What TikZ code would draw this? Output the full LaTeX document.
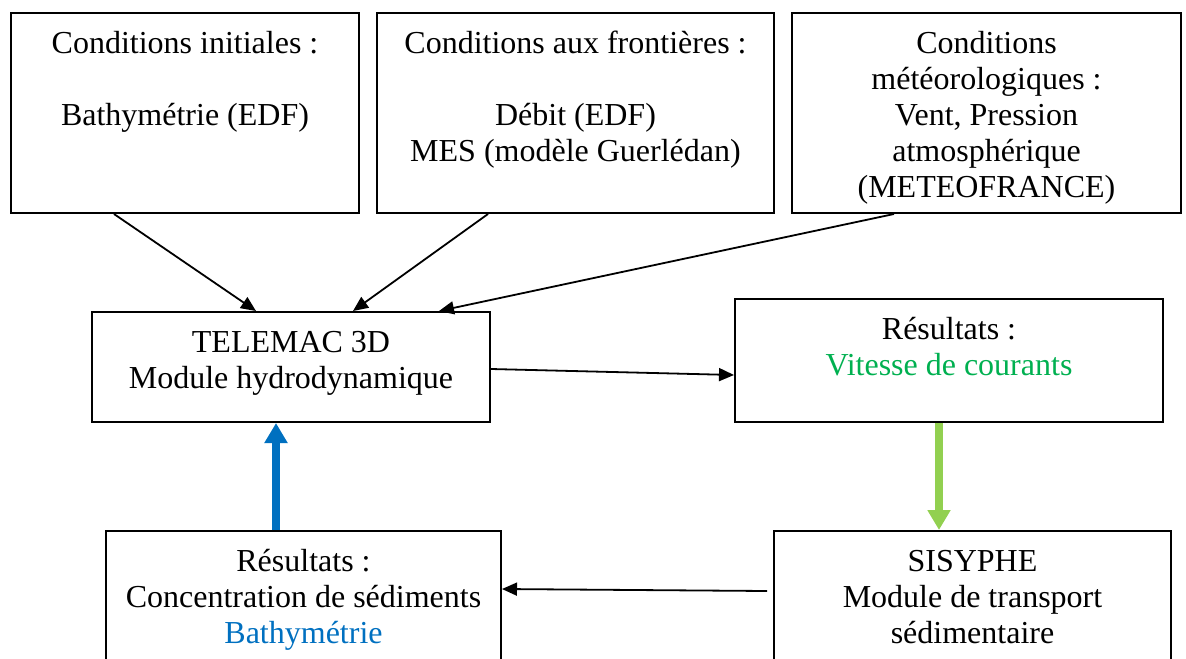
\documentclass[tikz,border=0pt]{standalone}
\usepackage{fontspec}
\setmainfont{Liberation Serif}
\usetikzlibrary{
  arrows.meta,
  positioning
}
\usepackage{xcolor}
\definecolor{speedGreen}{RGB}{0,176,80}
\definecolor{bathyBlue}{RGB}{0,112,192}
\definecolor{lightGreen}{RGB}{146,208,80}
\newcommand{\boxtext}[3]{\parbox[c][#2][t]{#1}{\centering\strut #3}}
\tikzset{
  block/.style={
    draw,
    line width=1pt,
    anchor=north west,
    inner xsep=0pt,
    inner ysep=7.4pt,
    font=\fontsize{16}{18}\selectfont
  },
  feedback/.style={
    line width=4pt,
    -{Triangle[length=10pt,width=11pt]}
  }
}

\begin{document}
\begin{tikzpicture}[x=0.5pt, y=-0.5pt, >={Triangle[length=7.5pt,width=6.5pt]}, line width=0.9pt]
    \useasboundingbox (0,0) rectangle (1186,658);

    \node[block] (init) at (10,12)
      {\boxtext{174pt}{85.2pt}{Conditions initiales :\\[\baselineskip] Bathymétrie (EDF)}};
    \node[block] (bound) at (376,12)
      {\boxtext{198.5pt}{85.2pt}{Conditions aux frontières :\\[\baselineskip] Débit (EDF)\\ MES (modèle Guerlédan)}};
    \node[block] (meteo) at (791,12)
      {\boxtext{194.5pt}{85.2pt}{Conditions\\ météorologiques :\\ Vent, Pression\\ atmosphérique\\ (METEOFRANCE)}};
    \node[block] (telemac) at (91,311)
      {\boxtext{199pt}{40.2pt}{TELEMAC 3D\\ Module hydrodynamique}};
    \node[block] (vitesse) at (734,298)
      {\boxtext{214pt}{46.7pt}{Résultats :\\ \textcolor{speedGreen}{Vitesse de courants}}};
    \node[block] (sedim) at (105,530)
      {\boxtext{197.5pt}{60.2pt}{Résultats :\\ Concentration de sédiments\\ \textcolor{bathyBlue}{Bathymétrie}}};
    \node[block] (sisyphe) at (773,530)
      {\boxtext{198.5pt}{60.2pt}{SISYPHE\\ Module de transport\\ sédimentaire}};

    \draw[->] ([xshift=-35.5pt]init.south) -- ([xshift=-17.5pt]telemac.north);
    \draw[->] ([xshift=-43.75pt]bound.south) -- ([xshift=31pt]telemac.north);
    \draw[->] ([xshift=-46.25pt]meteo.south) -- ([xshift=74pt]telemac.north);
    \draw[->] ([yshift=-1pt]telemac.east) -- ([yshift=-7.25pt]vitesse.west);
    \draw[feedback, lightGreen] ([xshift=-5pt]vitesse.south) -- ([xshift=-16.75pt]sisyphe.north);
    \draw[->] ([xshift=-3pt,yshift=7.5pt]sisyphe.west) -- ([yshift=8.5pt]sedim.east);
    \draw[feedback, bathyBlue] ([xshift=-13.75pt]sedim.north) -- ([xshift=-7.5pt]telemac.south);
\end{tikzpicture}
\end{document}
